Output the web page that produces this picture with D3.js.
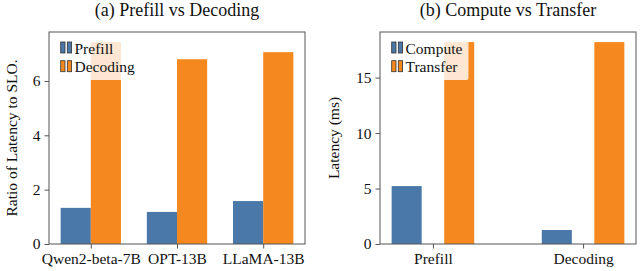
<!DOCTYPE html>
<html>
<head>
<meta charset="utf-8">
<script src="https://cdn.jsdelivr.net/npm/d3@7"></script>
<style>
  body { margin: 0; background: #fff; }
  svg text { font-family: "Liberation Serif", "DejaVu Serif", "Times New Roman", Times, serif; fill: #111; }
</style>
</head>
<body>
<div id="chart"></div>
<script>
// (a) prefill vs decoding
const models = ["Qwen2-beta-7B", "OPT-13B", "LLaMA-13B"];
const prefillRatio = [1.33, 1.18, 1.58];
const decodingRatio = [7.43, 6.80, 7.06];
const ratioTicks = [0, 2, 4, 6];

// (b) compute vs transfer
const phases = ["Prefill", "Decoding"];
const computeMs = [5.22, 1.26];
const transferMs = [18.2, 18.2];
const latencyTicks = [0, 5, 10, 15];

const blue = "#4a78a9", orange = "#f5891f", spine = "#555";
const serif = "'Liberation Serif', 'DejaVu Serif', 'Times New Roman', Times, serif";

const W = 642, H = 271;
const svg = d3.select("#chart").append("svg")
    .attr("width", W)
    .attr("height", H)
    .style("font-family", serif);

const panel = (opts) => {
    const {left, right, top, bottom, cats, s1, s2, names, ticks, barW, title, ylabel, labelX} = opts;
    const n = cats.length;
    const lo = -0.175 - barW / 2, hi = (n - 1) + 0.175 + barW / 2;
    const pad = (hi - lo) * 0.05;
    const x = d3.scaleLinear().domain([lo - pad, hi + pad]).range([left, right]);
    const ymax = d3.max(s1.concat(s2)) * 1.05;
    const y = d3.scaleLinear().domain([0, ymax]).range([bottom, top]);
    const g = svg.append("g");

    // bars
    const series = [{vals: s1, off: -0.175, color: blue}, {vals: s2, off: 0.175, color: orange}];
    series.forEach(s => {
        g.selectAll(null).data(s.vals).enter().append("rect")
            .attr("x", (d, i) => x(i + s.off - barW / 2))
            .attr("width", (d, i) => x(i + s.off + barW / 2) - x(i + s.off - barW / 2))
            .attr("y", d => y(d))
            .attr("height", d => y(0) - y(d))
            .attr("fill", s.color);
    });

    // axes
    const xa = g.append("g")
        .attr("transform", "translate(0," + bottom + ")")
        .call(d3.axisBottom(x).tickValues(d3.range(n)).tickFormat(i => cats[i]).tickSizeOuter(0).tickSize(4.5).tickPadding(4));
    const ya = g.append("g")
        .attr("transform", "translate(" + left + ",0)")
        .call(d3.axisLeft(y).tickValues(ticks).tickSizeOuter(0).tickSize(4.5).tickPadding(4));
    [xa, ya].forEach(a => {
        a.attr("font-family", null).attr("font-size", null);
        a.select(".domain").remove();
        a.selectAll(".tick line").attr("stroke", spine);
        a.selectAll(".tick text").style("font-size", "15.5px")
            .style("font-family", serif).attr("fill", "#111");
    });
    g.append("rect")
        .attr("x", left).attr("y", top)
        .attr("width", right - left).attr("height", bottom - top)
        .attr("fill", "none").attr("stroke", spine).attr("stroke-width", 1);

    // title and y label
    g.append("text")
        .attr("x", (left + right) / 2).attr("y", 16)
        .attr("text-anchor", "middle").style("font-size", "18px")
        .text(title);
    g.append("text")
        .attr("transform", "translate(" + labelX + "," + (top + bottom) / 2 + ") rotate(-90)")
        .attr("text-anchor", "middle").style("font-size", "15.5px")
        .text(ylabel);

    // legend
    const lg = g.append("g").attr("transform", "translate(" + (left + 6) + "," + (top + 4) + ")");
    const box = lg.append("rect").attr("fill", "#fff").attr("fill-opacity", 0.8).attr("rx", 2);
    [blue, orange].forEach((c, k) => {
        const ry = 6 + k * 18.7;
        [5.7, 12.3].forEach(hx => {
            lg.append("rect").attr("x", hx).attr("y", ry)
                .attr("width", 4.3).attr("height", 11)
                .attr("fill", c).attr("stroke", "#333").attr("stroke-width", 0.8);
        });
        lg.append("text").attr("x", 19.5).attr("y", ry + 11.5)
            .style("font-size", "15.5px").text(names[k]);
    });
    const bb = lg.node().getBBox();
    box.attr("x", 0).attr("y", 0).attr("width", bb.x + bb.width + 6).attr("height", 44);
};

panel({left: 49, right: 305, top: 32, bottom: 244, cats: models,
    s1: prefillRatio, s2: decodingRatio, names: ["Prefill", "Decoding"],
    ticks: ratioTicks, barW: 0.35, title: "(a) Prefill vs Decoding",
    ylabel: "Ratio of Latency to SLO.", labelX: 17});

panel({left: 380, right: 636, top: 32, bottom: 244, cats: phases,
    s1: computeMs, s2: transferMs, names: ["Compute", "Transfer"],
    ticks: latencyTicks, barW: 0.2, title: "(b) Compute vs Transfer",
    ylabel: "Latency (ms)", labelX: 339});
</script>
</body>
</html>
